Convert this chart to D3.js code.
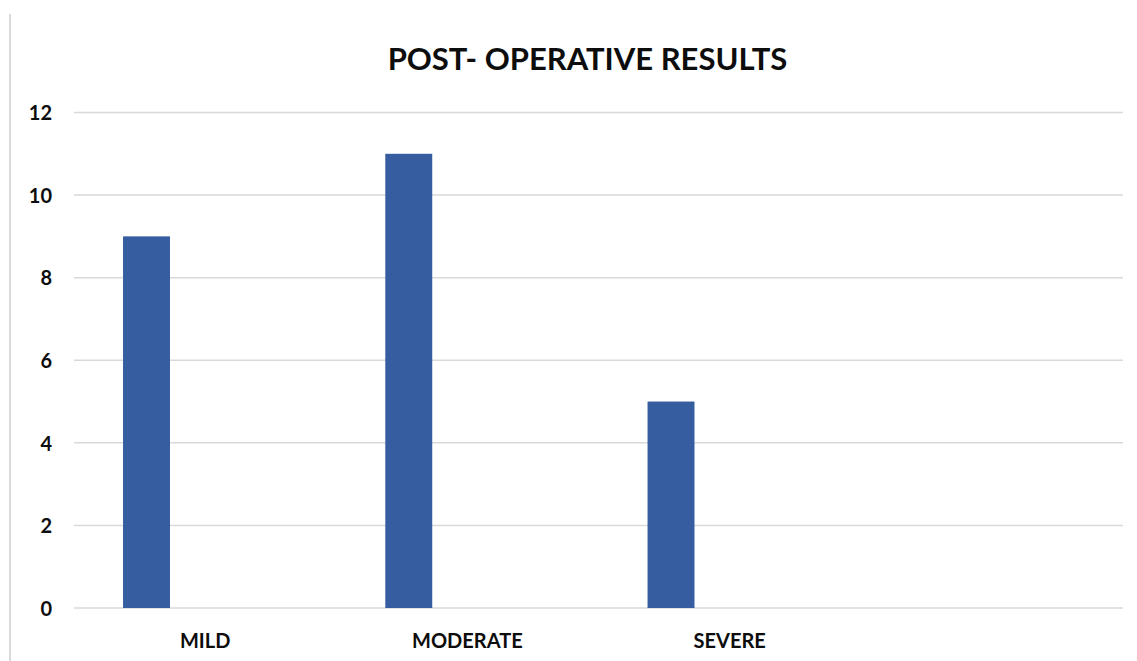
<!DOCTYPE html>
<html>
<head>
<meta charset="utf-8">
<script src="https://cdn.jsdelivr.net/npm/d3@7"></script>
<style>
  html, body { margin: 0; padding: 0; background: #fff; }
  svg { display: block; }
  text { font-family: Lato, "Open Sans", sans-serif; font-weight: bold; fill: #0d0d0d; }
</style>
</head>
<body>
<svg id="chart" width="1137" height="661"></svg>
<script>
const title = "POST- OPERATIVE RESULTS";
const categories = ["MILD", "MODERATE", "SEVERE", ""];
const values = [9, 11, 5, null];
const yTicks = [0, 2, 4, 6, 8, 10, 12];

const W = 1137, H = 661;
const margin = { left: 74, right: 14, top: 112.5, bottom: 53 };
const svg = d3.select("#chart");

// outer frame line on the left
svg.append("line")
  .attr("x1", 10).attr("x2", 10).attr("y1", 14).attr("y2", H)
  .attr("stroke", "#d9d9d9").attr("stroke-width", 2);

const x = d3.scaleBand()
  .domain(categories)
  .range([margin.left, W - margin.right])
  .paddingInner(0).paddingOuter(0);

const y = d3.scaleLinear()
  .domain([0, 12])
  .range([H - margin.bottom, margin.top]);

// gridlines
svg.append("g")
  .selectAll("line")
  .data(yTicks)
  .join("line")
  .attr("x1", margin.left).attr("x2", W - margin.right)
  .attr("y1", d => y(d)).attr("y2", d => y(d))
  .attr("stroke", "#d9d9d9").attr("stroke-width", 1.5);

// y axis labels
const yAxis = d3.axisLeft(y).tickValues(yTicks).tickSize(0).tickPadding(0);
const gy = svg.append("g").attr("transform", `translate(52,0)`).call(yAxis);
gy.select(".domain").remove();
gy.selectAll("text")
  .attr("font-size", 20)
  .attr("font-family", "Lato, 'Open Sans', sans-serif")
  .attr("font-weight", "bold")
  .attr("fill", "#0d0d0d")
  .attr("dy", "0.36em");

// bars
const bw = x.bandwidth();
svg.append("g")
  .selectAll("rect")
  .data(categories.map((c, i) => ({ c, v: values[i] })).filter(d => d.v != null))
  .join("rect")
  .attr("x", d => x(d.c) + bw * 0.187)
  .attr("width", bw * 0.179)
  .attr("y", d => y(d.v))
  .attr("height", d => y(0) - y(d.v))
  .attr("fill", "#355DA0");

// x axis labels
const xAxis = d3.axisBottom(x).tickSize(0).tickPadding(0);
const gx = svg.append("g").attr("transform", `translate(0,${y(0)})`).call(xAxis);
gx.select(".domain").remove();
gx.selectAll("text")
  .attr("font-size", 20)
  .attr("font-family", "Lato, 'Open Sans', sans-serif")
  .attr("font-weight", "bold")
  .attr("fill", "#0d0d0d")
  .attr("dy", null)
  .attr("y", 39.5);

// title
svg.append("text")
  .attr("x", 587.5).attr("y", 69.5)
  .attr("text-anchor", "middle")
  .attr("font-size", 31)
  .text(title);
</script>
</body>
</html>
